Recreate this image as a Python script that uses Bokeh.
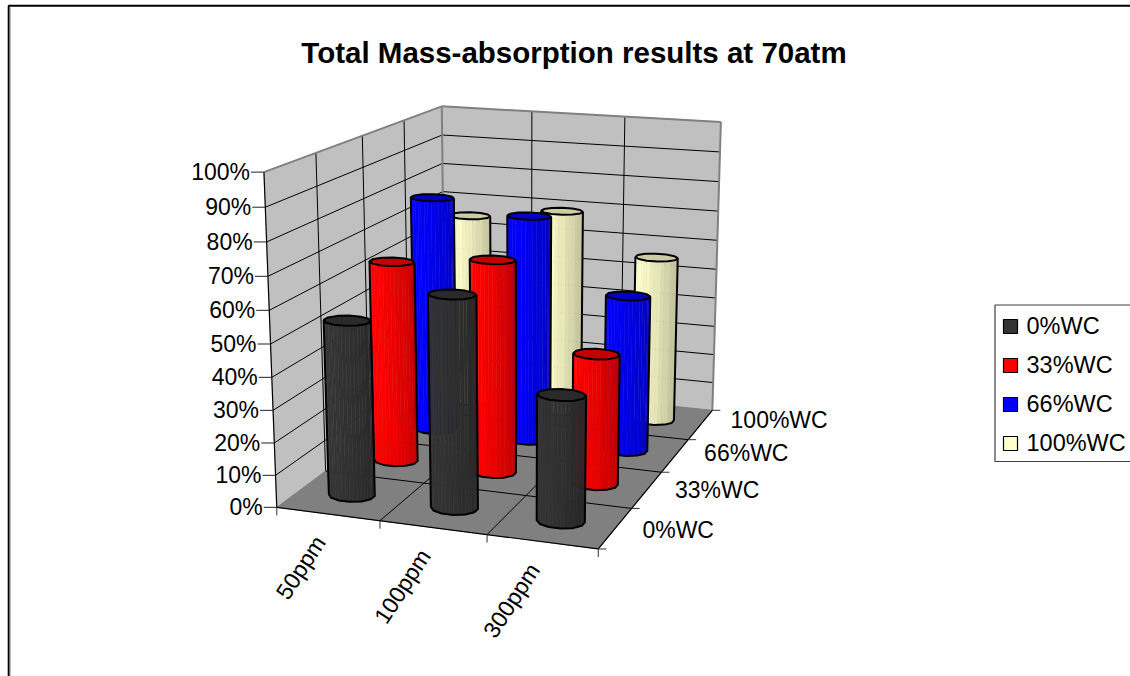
import numpy as np
from bokeh.plotting import figure
from bokeh.models import Range1d
from bokeh.core.properties import value
from bokeh.embed import file_html
from bokeh.resources import INLINE

TITLE = "Total Mass-absorption results at 70atm"
categories = ["50ppm", "100ppm", "300ppm"]
series_names = ["0%WC", "33%WC", "66%WC", "100%WC"]
values_0 = [0.542, 0.649, 0.383]
values_33 = [0.645, 0.677, 0.413]
values_66 = [0.783, 0.746, 0.513]
values_100 = [0.658, 0.697, 0.564]
percent_ticks = [i / 10 for i in range(11)]
percent_labels = ["%d%%" % (i * 10) for i in range(11)]
base_colors = [(52, 52, 52), (255, 0, 0), (0, 0, 255), (255, 255, 204)]
top_colors = ["#2a2a2a", "#c40000", "#0000c4", "#cccca6"]

FONT = value("Liberation Sans")
W, H = 1130, 676
p = figure(width=W, height=H, x_range=Range1d(0, W), y_range=Range1d(H, 0),
           output_backend="svg", toolbar_location=None, min_border=0,
           x_axis_type="linear", y_axis_type="linear", title=None)
p.axis.visible = False
p.grid.visible = False
p.outline_line_color = None

# Camera calibration: box corners (category, series, fraction) -> picture position
NX, NY = len(categories), len(series_names)
calib = [((0, 0, 0), (276.5, 505)), ((NX, 0, 0), (598, 550)), ((NX, NY, 0), (712, 408)),
         ((0, NY, 0), (444, 384)), ((0, 0, 1), (263, 172)), ((NX, NY, 1), (720, 122)),
         ((0, NY, 1), (442, 105))]
A, b = [], []
for (X, Y, Z), (u, v) in calib:
    A.append([X, Y, Z, 1, 0, 0, 0, 0, -u * X, -u * Y, -u * Z]); b.append(u)
    A.append([0, 0, 0, 0, X, Y, Z, 1, -v * X, -v * Y, -v * Z]); b.append(v)
sol = np.linalg.lstsq(np.array(A, float), np.array(b, float), rcond=None)[0]
P = np.append(sol, 1.0).reshape(3, 4)


def proj(X, Y, Z):
    r = P @ np.array([X, Y, Z, 1.0])
    return float(r[0] / r[2]), float(r[1] / r[2])


def face(pts, fill, line=None, lw=1):
    xs, ys = zip(*[proj(*q) for q in pts])
    p.patch(list(xs), list(ys), fill_color=fill, line_color=line or fill, line_width=lw)


def segs(pairs, color, lw=1.0):
    xs, ys = [], []
    for a, c in pairs:
        u0, v0 = proj(*a)
        u1, v1 = proj(*c)
        xs.append([u0, u1]); ys.append([v0, v1])
    p.multi_line(xs, ys, line_color=color, line_width=lw)


# frame
p.line([8.2, 8.2, 1131], [680, 5.2, 5.2], line_color="#000000", line_width=2)
p.line([9.7, 9.7], [7, 680], line_color="#a0a0a0", line_width=1)

# walls
face([(0, 0, 0), (0, NY, 0), (0, NY, 1), (0, 0, 1)], "#c0c0c0")
face([(0, NY, 0), (NX, NY, 0), (NX, NY, 1), (0, NY, 1)], "#c0c0c0")
segs([((0, 0, z), (0, NY, z)) for z in percent_ticks[1:-1]] +
     [((0, NY, z), (NX, NY, z)) for z in percent_ticks[1:-1]] +
     [((0, y, 0), (0, y, 1)) for y in range(1, NY)] +
     [((x, NY, 0), (x, NY, 1)) for x in range(1, NX)], "#000000", 1)
segs([((0, 0, 1), (0, NY, 1)), ((0, NY, 1), (NX, NY, 1)), ((NX, NY, 1), (NX, NY, 0)),
      ((0, NY, 0), (0, NY, 1))], "#808080", 2)

# floor
face([(0, 0, 0), (NX, 0, 0), (NX, NY, 0), (0, NY, 0)], "#808080")
segs([((x, 0, 0), (x, NY, 0)) for x in range(1, NX)] +
     [((0, y, 0), (NX, y, 0)) for y in range(1, NY)], "#000000", 1)
segs([((0, 0, 0), (NX, 0, 0)), ((NX, 0, 0), (NX, NY, 0)), ((0, 0, 0), (0, 0, 1))], "#000000", 1.2)

# ticks
tx, ty = [], []
for z in percent_ticks:
    u, v = proj(0, 0, z)
    tx.append([u - 13, u]); ty.append([v, v])
p.multi_line(tx, ty, line_color="#222222", line_width=1)
tx, ty = [], []
for x in range(NX + 1):
    u, v = proj(x, 0, 0)
    tx.append([u, u]); ty.append([v, v + 8])
for y in range(NY + 1):
    u, v = proj(NX, y, 0)
    tx.append([u, u + 8]); ty.append([v, v])
p.multi_line(tx, ty, line_color="#333333", line_width=1)

# columns
all_values = [values_0, values_33, values_66, values_100]
RX, RY, NSIDES, SUB = 0.215, 0.17, 12, 3


def column(cx, cy, val, rgb, top_col):
    ang = np.deg2rad(15 + np.arange(NSIDES) * 360 / NSIDES)
    ring = [(cx + RX * np.cos(a), cy + RY * np.sin(a)) for a in ang]
    bottom = [proj(x, y, 0) for x, y in ring]
    top = [proj(x, y, val) for x, y in ring]
    umin, umax = min(q[0] for q in bottom), max(q[0] for q in bottom)
    xs, ys, cols = [], [], []
    front_path = []
    for i in range(NSIDES):
        j = (i + 1) % NSIDES
        a, c = bottom[i], bottom[j]
        d, e = top[i], top[j]
        area = (c[0] - a[0]) * (d[1] - a[1]) - (c[1] - a[1]) * (d[0] - a[0])
        if area >= 0:
            continue
        front_path.append(i)
        for s in range(SUB):
            t0, t1 = s / SUB, (s + 1) / SUB
            q = [(a[0] + (c[0] - a[0]) * t0, a[1] + (c[1] - a[1]) * t0),
                 (a[0] + (c[0] - a[0]) * t1, a[1] + (c[1] - a[1]) * t1),
                 (d[0] + (e[0] - d[0]) * t1, d[1] + (e[1] - d[1]) * t1),
                 (d[0] + (e[0] - d[0]) * t0, d[1] + (e[1] - d[1]) * t0)]
            mid = sum(pt[0] for pt in q) / 4
            tt = (mid - umin) / (umax - umin)
            shade = 1.0 - 0.24 * max(0.0, tt) ** 1.4
            if s == 0:
                shade = min(1.0, shade + 0.02)
            col = "#%02x%02x%02x" % tuple(int(round(k * shade)) for k in rgb)
            xs.append([pt[0] for pt in q]); ys.append([pt[1] for pt in q]); cols.append(col)
    p.patches(xs, ys, fill_color=cols, line_color=cols, line_width=0.4)
    p.patch([q[0] for q in top], [q[1] for q in top], fill_color=top_col, line_color="#000000", line_width=2)
    # silhouette
    sil = []
    for i in front_path:
        for k in (i, (i + 1) % NSIDES):
            if bottom[k] not in sil:
                sil.append(bottom[k])
    sil.sort(key=lambda q: q[0])
    first = bottom.index(sil[0]); last = bottom.index(sil[-1])
    p.line([top[first][0]] + [q[0] for q in sil] + [top[last][0]],
           [top[first][1]] + [q[1] for q in sil] + [top[last][1]],
           line_color="#000000", line_width=2, line_join="round")


for s in range(NY - 1, -1, -1):
    for c in range(NX):
        column(c + 0.5, s + 0.5, all_values[s][c], base_colors[s], top_colors[s])

# texts
SZ = value("23px")
lx = [proj(0, 0, z)[0] - 14 for z in percent_ticks]
ly = [proj(0, 0, z)[1] for z in percent_ticks]
p.text(lx, ly, text=percent_labels, text_font=FONT, text_font_size=SZ, text_align="right",
       text_baseline="middle", text_color="#000000")
lx = [proj(x + 0.5, 0, 0)[0] - 8 for x in range(NX)]
ly = [proj(x + 0.5, 0, 0)[1] + 24 for x in range(NX)]
p.text(lx, ly, text=categories, text_font=FONT, text_font_size=SZ, text_align="right",
       text_baseline="middle", angle=57, angle_units="deg", text_color="#000000")
lx = [proj(NX, y + 0.5, 0)[0] + 27 + y for y in range(NY)]
ly = [proj(NX, y + 0.5, 0)[1] + 2 - 2.3 * y for y in range(NY)]
p.text(lx, ly, text=series_names, text_font=FONT, text_font_size=SZ, text_align="left",
       text_baseline="middle", text_color="#000000")
p.text([573.5], [52], text=[TITLE], text_font=FONT, text_font_size=value("29.5px"),
       text_font_style="bold", text_align="center", text_baseline="middle", text_color="#000000")

# legend
p.line([1135, 994.5, 994.5, 1135], [304.5, 304.5, 461, 461], line_color="#404040", line_width=1.2)
leg_y = [326, 365, 404, 443]
p.scatter([1010] * NY, leg_y, size=14, marker="square",
          fill_color=["#%02x%02x%02x" % c for c in base_colors], line_color="#000000", line_width=1.2)
p.text([1026] * NY, [y - 1 for y in leg_y], text=series_names, text_font=FONT, text_font_size=value("23.5px"),
       text_align="left", text_baseline="middle", text_color="#000000")

open("out.html", "w").write(file_html(p, INLINE))
